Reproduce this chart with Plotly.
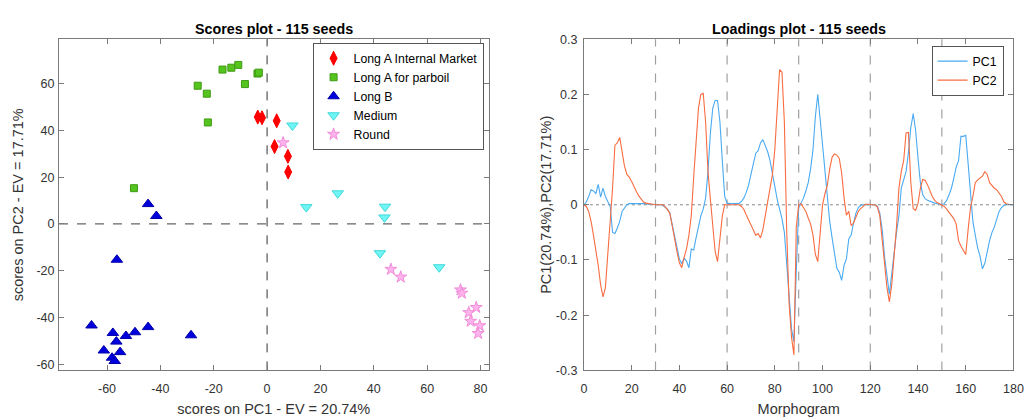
import plotly.graph_objects as go

# ---------------- Scores (PC1 vs PC2) ----------------
long_a_im_x = [-3.5, -1.9, 3.6, 2.8, 7.8, 7.9]
long_a_im_y = [45.7, 45.4, 44.1, 33.1, 28.9, 22.2]
parboil_x = [-26.0, -22.6, -22.2, -16.7, -13.4, -10.8, -8.3, -3.6, -3.1, -49.9]
parboil_y = [59.1, 55.7, 43.4, 66.0, 66.8, 68.0, 59.8, 64.3, 64.7, 15.3]
long_b_x = [-44.6, -41.5, -56.3, -65.8, -57.8, -56.5, -61.2, -58.1, -57.1, -55.1, -52.9, -49.5, -44.6, -28.5]
long_b_y = [8.5, 3.4, -15.3, -43.4, -46.6, -50.3, -54.1, -57.2, -58.6, -54.8, -47.9, -46.3, -44.1, -47.6]
medium_x = [9.5, 26.5, 14.7, 44.2, 44.0, 42.3, 64.5]
medium_y = [42.1, 13.1, 7.2, 7.4, 2.8, -12.5, -18.5]
round_x = [6.0, 46.4, 50.1, 72.5, 73.0, 75.6, 76.3, 78.4, 79.7, 79.1]
round_y = [34.7, -19.4, -22.7, -28.2, -29.6, -37.9, -41.6, -35.7, -43.5, -46.8]

score_xticks = [-60, -40, -20, 0, 20, 40, 60, 80]
score_yticks = [-60, -40, -20, 0, 20, 40, 60]

# ---------------- Loadings over the morphogram ----------------
morphogram = list(range(0, 181))
pc1 = [
    0.000, 0.005, 0.015, 0.027, 0.025, 0.020, 0.037, 0.014, 0.030, 0.015,
    0.006, -0.002, -0.050, -0.052, -0.042, -0.030, -0.012, -0.005, 0.000, 0.002,
    0.002, 0.003, 0.003, 0.003, 0.003, 0.002, 0.002, 0.001, 0.001, 0.000,
    0.000, 0.000, 0.000, -0.001, -0.004, -0.008, -0.015, -0.035, -0.060, -0.080,
    -0.098, -0.107, -0.097, -0.102, -0.114, -0.080, -0.082, -0.060, -0.040, -0.020,
    -0.008, 0.012, 0.060, 0.130, 0.175, 0.189, 0.189, 0.150, 0.080, 0.015,
    0.003, 0.002, 0.002, 0.002, 0.002, 0.002, 0.006, 0.012, 0.022, 0.035,
    0.055, 0.075, 0.093, 0.098, 0.112, 0.118, 0.108, 0.096, 0.080, 0.055,
    0.030, 0.010, -0.008, -0.025, -0.050, -0.100, -0.165, -0.225, -0.248, -0.120,
    -0.005, 0.003, 0.012, 0.025, 0.040, 0.065, 0.100, 0.160, 0.200, 0.155,
    0.105, 0.062, 0.015, -0.030, -0.060, -0.085, -0.115, -0.122, -0.137, -0.110,
    -0.098, -0.062, -0.055, -0.033, -0.015, -0.005, -0.001, 0.000, 0.000, 0.000,
    0.000, 0.000, 0.000, -0.003, -0.015, -0.045, -0.095, -0.128, -0.162, -0.125,
    -0.085, -0.050, -0.020, 0.030, 0.045, 0.060, 0.095, 0.140, 0.165, 0.135,
    0.085, 0.040, 0.018, 0.011, 0.008, 0.006, 0.004, 0.003, 0.002, 0.001,
    0.000, 0.002, 0.008, 0.018, 0.030, 0.048, 0.068, 0.080, 0.124, 0.124,
    0.126, 0.075, 0.015, -0.030, -0.055, -0.078, -0.093, -0.116, -0.106, -0.085,
    -0.065, -0.050, -0.040, -0.026, -0.012, -0.005, -0.001, 0.000, 0.000, 0.000,
    0.000,
]
pc2 = [
    0.000, -0.003, -0.012, -0.030, -0.055, -0.080, -0.110, -0.145, -0.167, -0.150,
    -0.090, -0.040, 0.030, 0.108, 0.112, 0.122, 0.095, 0.070, 0.055, 0.050,
    0.042, 0.032, 0.024, 0.016, 0.010, 0.005, 0.003, 0.002, 0.001, 0.000,
    0.000, 0.000, 0.000, 0.000, -0.003, -0.008, -0.015, -0.038, -0.065, -0.085,
    -0.105, -0.114, -0.095, -0.080, -0.055, -0.020, 0.050, 0.115, 0.175, 0.200,
    0.202, 0.150, 0.060, 0.010, -0.045, -0.085, -0.103, -0.065, -0.020, 0.000,
    0.000, 0.000, 0.000, 0.000, 0.000, 0.000, -0.003, -0.008, -0.018, -0.027,
    -0.035, -0.045, -0.055, -0.052, -0.060, -0.045, -0.020, 0.005, 0.025, 0.055,
    0.100, 0.170, 0.245, 0.240, 0.150, -0.050, -0.180, -0.240, -0.272, -0.040,
    0.000, 0.002, -0.004, -0.012, -0.024, -0.035, -0.055, -0.090, -0.103, -0.057,
    0.000, 0.020, 0.035, 0.065, 0.086, 0.092, 0.090, 0.084, 0.058, 0.013,
    -0.019, -0.012, -0.038, -0.033, -0.022, -0.012, -0.007, -0.002, 0.001, 0.001,
    0.000, 0.000, 0.000, -0.004, -0.020, -0.060, -0.110, -0.150, -0.176, -0.145,
    -0.092, -0.040, 0.030, 0.060, 0.080, 0.130, 0.131, 0.040, -0.007, -0.010,
    0.002, 0.030, 0.046, 0.044, 0.036, 0.025, 0.015, 0.008, 0.004, 0.002,
    0.000, -0.003, -0.008, -0.013, -0.018, -0.025, -0.035, -0.065, -0.075, -0.082,
    -0.090, -0.045, -0.005, 0.015, 0.040, 0.045, 0.048, 0.052, 0.060, 0.055,
    0.040, 0.034, 0.030, 0.027, 0.022, 0.015, 0.005, 0.002, 0.001, 0.000,
    0.000,
]
block_edges = [30, 60, 90, 120, 150]
load_xticks = [0, 20, 40, 60, 80, 100, 120, 140, 160, 180]
load_yticks = [-0.3, -0.2, -0.1, 0, 0.1, 0.2, 0.3]
load_yticktext = ["-0.3", "-0.2", "-0.1", "0", "0.1", "0.2", "0.3"]

FONT = "Liberation Sans, Arial, sans-serif"
TICK_COLOR = "#333333"
AXIS_COLOR = "#7a7a7a"

fig = go.Figure()

# scatter groups
groups = [
    ("Long A Internal Market", long_a_im_x, long_a_im_y, "diamond-tall", 10, "#ff0000", "#ff0000"),
    ("Long A for parboil", parboil_x, parboil_y, "square", 7, "#55c41e", "#3f9a14"),
    ("Long B", long_b_x, long_b_y, "triangle-up", 10, "#0000dd", "#0000aa"),
    ("Medium", medium_x, medium_y, "triangle-down", 10, "#6ff5f5", "#40d8d8"),
    ("Round", round_x, round_y, "star", 9, "#ffb3ec", "#f08cd8"),
]
for name, gx, gy, sym, size, fill, edge in groups:
    fig.add_trace(go.Scatter(
        x=gx, y=gy, mode="markers", name=name,
        marker=dict(symbol=sym, size=size, color=fill, line=dict(color=edge, width=1)),
        xaxis="x", yaxis="y", legend="legend",
    ))

fig.add_trace(go.Scatter(
    x=morphogram, y=pc1, mode="lines", name="PC1",
    line=dict(color="#4aaaf2", width=1.1),
    xaxis="x2", yaxis="y2", legend="legend2",
))
fig.add_trace(go.Scatter(
    x=morphogram, y=pc2, mode="lines", name="PC2",
    line=dict(color="#f86c40", width=1.1),
    xaxis="x2", yaxis="y2", legend="legend2",
))

shapes = [
    # zero reference lines on the scores plot
    dict(type="line", xref="x", yref="y domain", x0=0, x1=0, y0=0, y1=1,
         line=dict(color="#333333", width=1, dash="dash"), layer="below"),
    dict(type="line", xref="x domain", yref="y", x0=0, x1=1, y0=0, y1=0,
         line=dict(color="#666666", width=1.3, dash="dash"), layer="below"),
    # zero line on loadings plot
    dict(type="line", xref="x2 domain", yref="y2", x0=0, x1=1, y0=0, y1=0,
         line=dict(color="#888888", width=1, dash="dot"), layer="below"),
]
for edge_x in block_edges:
    shapes.append(dict(type="line", xref="x2", yref="y2 domain", x0=edge_x, x1=edge_x, y0=0, y1=1,
                       line=dict(color="#a0a0a0", width=1.2, dash="dash"), layer="below"))

axis_common = dict(
    showline=True, linecolor=AXIS_COLOR, linewidth=1, mirror="ticks",
    ticks="inside", ticklen=5, tickcolor=AXIS_COLOR, showgrid=False, zeroline=False,
    tickfont=dict(family=FONT, size=12.5, color=TICK_COLOR),
)
TITLE_FONT = dict(size=14.5, family=FONT, color=TICK_COLOR)

W, H = 1035, 417
fig.update_layout(
    width=W, height=H,
    margin=dict(l=0, r=0, t=0, b=0),
    paper_bgcolor="white", plot_bgcolor="white",
    font=dict(family=FONT, color=TICK_COLOR),
    shapes=shapes,
    xaxis=dict(domain=[56.7 / W, 491.7 / W], range=[-78, 83], tickvals=score_xticks,
               ticktext=[str(v) for v in score_xticks], ticklabelstandoff=7,
               title=dict(text="scores on PC1 - EV = 20.74%", font=TITLE_FONT, standoff=8),
               anchor="y", **axis_common),
    yaxis=dict(domain=[1 - 376 / H, 1 - 33.3 / H], range=[-62.6, 79], tickvals=score_yticks,
               ticktext=[str(v) for v in score_yticks], ticklabelstandoff=1,
               title=dict(text="scores on PC2 - EV = 17.71%", font=TITLE_FONT, standoff=9),
               anchor="x", **axis_common),
    xaxis2=dict(domain=[588.3 / W, 1023.3 / W], range=[0, 180], tickvals=load_xticks,
                ticktext=[str(v) for v in load_xticks], ticklabelstandoff=7,
                title=dict(text="Morphogram", font=TITLE_FONT, standoff=8),
                anchor="y2", **axis_common),
    yaxis2=dict(domain=[1 - 376 / H, 1 - 33.3 / H], range=[-0.3, 0.3], tickvals=load_yticks,
                ticktext=load_yticktext, ticklabelstandoff=3,
                title=dict(text="PC1(20.74%),PC2(17.71%)", font=TITLE_FONT, standoff=0),
                anchor="x2", **axis_common),
    legend=dict(x=486.7 / W, y=1 - 37 / H, xanchor="right", yanchor="top",
                bordercolor="#555555", borderwidth=1, bgcolor="white",
                font=dict(family=FONT, size=12.3, color="#000000"), tracegroupgap=0),
    legend2=dict(x=1013.3 / W, y=1 - 40 / H, xanchor="right", yanchor="top",
                 bordercolor="#555555", borderwidth=1, bgcolor="white",
                 font=dict(family=FONT, size=12.3, color="#000000")),
    annotations=[
        dict(text="<b>Scores plot - 115 seeds</b>", x=(56.7 + 491.7) / 2 / W, y=1 - 22.5 / H,
             xref="paper", yref="paper", showarrow=False, xanchor="center", yanchor="middle",
             font=dict(family=FONT, size=14.3, color="#000000")),
        dict(text="<b>Loadings plot - 115 seeds</b>", x=(588.3 + 1023.3) / 2 / W, y=1 - 22.5 / H,
             xref="paper", yref="paper", showarrow=False, xanchor="center", yanchor="middle",
             font=dict(family=FONT, size=14.3, color="#000000")),
    ],
)

fig.write_html("out.html")
